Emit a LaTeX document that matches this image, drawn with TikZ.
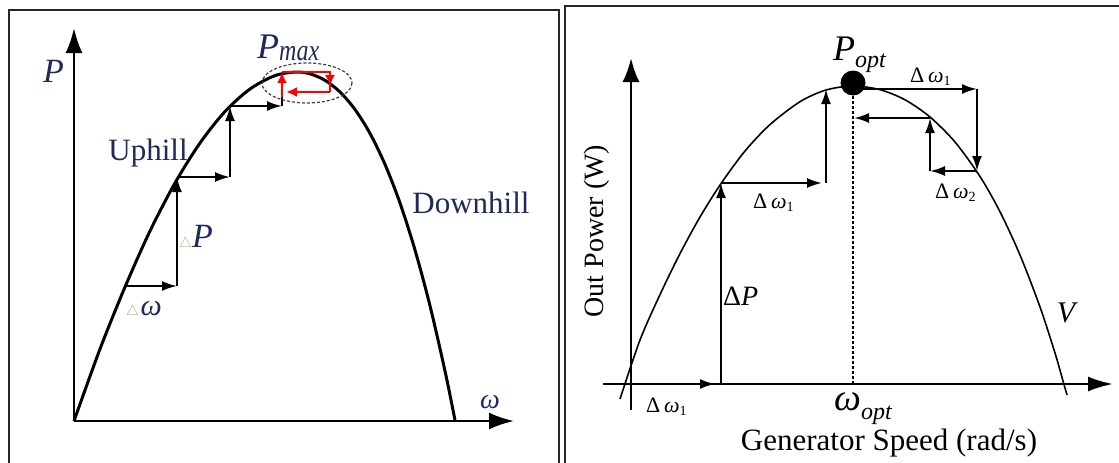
\documentclass[tikz,border=0pt]{standalone}
\usepackage{fontspec}
\setmainfont{Liberation Serif}
\usetikzlibrary{arrows.meta}
\definecolor{inkblue}{RGB}{30,42,92}
\definecolor{tricol}{RGB}{200,160,120}
\newcommand{\fs}[1]{\fontsize{#1}{#1}\selectfont}

\begin{document}
\begin{tikzpicture}[
    x=1pt, y=-1pt,
    frame/.style={line width=2pt, color=black!85},
    axis/.style={-{Latex[length=25pt,width=17pt]}, line width=2.5pt},
    curve/.style={line width=3pt, line join=round},
    stepline/.style={-{Latex[length=15pt,width=10pt]}, line width=2pt},
    hill/.style={color=inkblue, inner sep=0pt},
    redstep/.style={-{Latex[length=11pt,width=10pt]}, line width=2.4pt, color=red},
    lbl/.style={inner sep=0pt}
]
    \useasboundingbox (0,0) rectangle (1119,463);

    % left panel: hill climbing
    \draw[frame] (9,475) -- (9,10) -- (559,10) -- (559,475);
    \coordinate (o1) at (74,421);
    \draw[axis] (o1) -- (74,28);
    \draw[axis] (o1) -- (514,421);
    \draw[curve] plot[smooth, tension=0.5] coordinates {(74,421) (100,349) (125,287) (150,231) (175,183) (200,143) (225,111.5) (250,89) (275,75.6) (296,72) (310,73.8) (325,80.3) (340,92) (355,109.5) (370,133.4) (385,164.4) (400,203) (415,250) (430,305.8) (445,371) (455,420)};

    \coordinate (a1) at (127,286);
    \coordinate (a2) at (177,286);
    \coordinate (a3) at (177,177);
    \coordinate (a4) at (230,177);
    \coordinate (a5) at (230,106);
    \coordinate (a6) at (282,106);
    \coordinate (a7) at (282,97);
    \draw[stepline] (a1) -- (a2);
    \draw[stepline] (a2) -- (a3);
    \draw[stepline] (a3) -- (a4);
    \draw[stepline] (a4) -- (a5);
    \draw[stepline] (a5) -- (a6);
    \draw[line width=2pt] (a6) -- (a7);

    \coordinate (r1) at (282,72);
    \coordinate (r2) at (330,72);
    \coordinate (r3) at (330,92);
    \coordinate (r4) at (286,92);
    \draw[redstep] (a7) -- (r1);
    \draw[redstep] (r1) -- (r2) -- (330,86);
    \draw[line width=2.4pt, red] (330,84) -- (r3);
    \draw[redstep] (r3) -- (r4);
    \draw[densely dashed, line width=1.2pt, black!75] (307,83) ellipse [x radius=45, y radius=20];

    \node[hill, anchor=base west] (plab) at (43,82) {\fs{34}\itshape P};
    \node[hill, anchor=base west] (pmax) at (257,58) {{\fs{36}\itshape P}{\fs{30}\itshape\raisebox{-2pt}{\scalebox{0.8}[1]{max}}}};
    \node[hill, anchor=base] (uphill) at (148,160) {\fs{31}Uphill};
    \node[hill, anchor=base] (downhill) at (471,213) {\fs{31}Downhill};
    \node[hill, anchor=base west] (dplab) at (179,247) {{\color{tricol}\fs{14}$\triangle$}{\fs{34}\itshape P}};
    \node[hill, anchor=base west] (dwlab) at (126,315) {{\color{tricol}\fs{14}$\triangle$}\,{\fs{30}\itshape ω}};
    \node[hill, anchor=base] (wlab) at (490,408) {\fs{28}\itshape ω};

    % right panel: optimum point
    \draw[frame] (565,475) -- (565,6) -- (1125,6);
    \coordinate (o2) at (631,384);
    \draw[axis, -{Latex[length=24pt,width=17pt]}] (631,410) -- (631,58);
    \draw[axis, -{Latex[length=25pt,width=15pt]}] (603,384) -- (1113,384);
    \draw[line width=1.6pt] plot[smooth, tension=0.5] coordinates {(620,399) (640,340) (660,294.6) (680,253.6) (700,217) (721,183.6) (745,151) (770,124.6) (800,101.7) (826,90) (853,86) (880,89.7) (905,99.8) (930,117) (955,142) (980,176.5) (1000,211.8) (1020,255) (1040,307) (1055,353) (1063,381) (1067,395)};

    \node[circle, fill=black, minimum size=25pt, inner sep=0pt] (popt) at (853,83) {};
    \coordinate (wopt) at (853,384);
    \draw[densely dashed, line width=1.3pt] (popt.south) -- (wopt);

    \coordinate (b1) at (721,384);
    \coordinate (b2) at (721,183);
    \coordinate (b3) at (826,183);
    \coordinate (b4) at (826,89);
    \coordinate (c1) at (863,89);
    \coordinate (c2) at (977,89);
    \coordinate (c3) at (977,171);
    \coordinate (c4) at (930,171);
    \coordinate (c5) at (930,118);
    \coordinate (c6) at (854,118);
    \draw[stepline] (o2) -- ([xshift=-6pt]b1);
    \draw[stepline] (b1) -- (b2);
    \draw[stepline] (b2) -- ([xshift=-4pt]b3);
    \draw[stepline] (b3) -- (b4);
    \draw[stepline] (c1) -- (c2);
    \draw[stepline] (c2) -- (c3);
    \draw[stepline] (c3) -- (c4);
    \draw[stepline] (c4) -- (c5);
    \draw[stepline] (c5) -- (c6);

    \node[lbl, anchor=base west] (poptlab) at (833,60) {{\fs{36}\itshape P}{\fs{24}\itshape\raisebox{-7pt}{opt}}};
    \node[lbl, anchor=base west] (woptlab) at (834,410) {{\fs{38}\itshape ω}{\fs{24}\itshape\raisebox{-9pt}{opt}}};
    \node[lbl, rotate=90] (ylab) at (597,231) {\fs{28}Out Power (W)};
    \node[lbl, anchor=base] (xlab) at (889,450) {\fs{31}Generator Speed (rad/s)};
    \node[lbl, anchor=base west] (dw1a) at (646,412) {\fs{22}Δ\,{\itshape ω}\raisebox{-3pt}{\fs{14}1}};
    \node[lbl, anchor=base west] (dw1b) at (753,208) {\fs{22}Δ\,{\itshape ω}\raisebox{-3pt}{\fs{14}1}};
    \node[lbl, anchor=base west] (dw1c) at (910,82) {\fs{22}Δ\,{\itshape ω}\raisebox{-3pt}{\fs{14}1}};
    \node[lbl, anchor=base west] (dw2) at (935,198) {\fs{22}Δ\,{\itshape ω}\raisebox{-3pt}{\fs{14}2}};
    \node[lbl, anchor=base west] (dplab2) at (723,305) {\fs{28}Δ{\itshape P}};
    \node[lbl, anchor=base] (vlab) at (1066,322) {\fs{30}\itshape V};
\end{tikzpicture}
\end{document}
